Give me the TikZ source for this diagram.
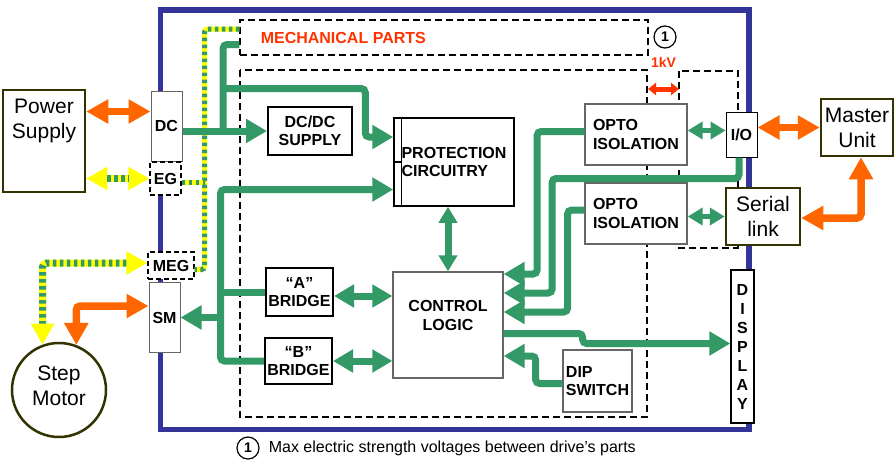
\documentclass[tikz,border=0pt]{standalone}
\usepackage{fontspec}
\setmainfont{Liberation Sans}
\usetikzlibrary{arrows.meta,positioning,calc}
\definecolor{DriveGreen}{HTML}{339966}
\definecolor{PowOrange}{HTML}{FF6600}
\definecolor{KvRed}{HTML}{FF3300}
\definecolor{FrameBlue}{HTML}{333399}
\definecolor{ExtOlive}{HTML}{333300}
\definecolor{EarthYellow}{HTML}{FFFF00}
\definecolor{BoxGrey}{HTML}{666666}
\newcommand{\blkfont}{\bfseries\fontsize{16}{18.5}\selectfont}
\newcommand{\extfont}{\fontsize{21}{25}\selectfont}

\begin{document}
\begin{tikzpicture}[x=1pt, y=-1pt,
  blk/.style={draw, line width=2pt, fill=white, inner sep=0pt, align=center, font=\blkfont},
  gblk/.style={blk, draw=BoxGrey, line width=1.3pt},
  port/.style={draw=BoxGrey, line width=1pt, fill=white, inner sep=0pt, font=\blkfont},
  dport/.style={port, draw=black, line width=1.3pt, dash pattern=on 5pt off 3pt},
  ext/.style={draw=ExtOlive, line width=2.5pt, fill=white, inner sep=0pt, align=center, font=\extfont},
  zone/.style={line width=1.5pt, dash pattern=on 7pt off 4pt},
  gline/.style={draw=DriveGreen, line width=7pt, rounded corners=4pt},
  garrow/.style={gline, -{Triangle[length=21pt,width=23pt]}},
  gbi/.style={gline, {Triangle[length=20pt,width=22pt]}-{Triangle[length=20pt,width=22pt]}},
  gvbi/.style={gline, {Triangle[length=16pt,width=18pt]}-{Triangle[length=16pt,width=18pt]}},
  gsmall/.style={gline, line width=5pt, {Triangle[length=15pt,width=17pt]}-{Triangle[length=15pt,width=17pt]}},
  pwr/.style={draw=PowOrange, line width=7.5pt, rounded corners=4pt, {Triangle[length=22pt,width=23pt]}-{Triangle[length=22pt,width=23pt]}},
  earth/.style={draw=EarthYellow, line width=5pt, rounded corners=3pt, postaction={draw=DriveGreen, dash pattern=on 3.5pt off 3.5pt}},
  eartharrow/.style={draw=EarthYellow, line width=7pt, rounded corners=4pt, {Triangle[length=21pt,width=22pt]}-{Triangle[length=21pt,width=22pt]}, postaction={draw=DriveGreen, arrows=-, shorten <=21pt, shorten >=21pt, dash pattern=on 3.5pt off 3.5pt}},
  kv/.style={draw=KvRed, line width=5pt, {Triangle[length=8pt,width=12pt]}-{Triangle[length=8pt,width=12pt]}},
  numc/.style={circle, draw, line width=1.2pt, minimum size=22pt, inner sep=0pt, font=\bfseries\fontsize{14}{14}\selectfont}]
\useasboundingbox (0,0) rectangle (896,463);

% drive housing and isolation zones
\draw[FrameBlue, line width=5.5pt] (160.5,10) rectangle (749,429.5);
\draw[zone] (240,70) rectangle (647,417);
\draw[zone] (679,71) rectangle (738,248);
\node[zone, draw, minimum width=408pt, minimum height=35pt, inner sep=0pt,
  label={[anchor=west, xshift=18pt, text=KvRed, font=\blkfont]west:MECHANICAL PARTS}] (mech) at (444,37.5) {};

% outside world
\node[ext, minimum width=82pt, minimum height=102pt, text depth=45pt] (ps) at (44,141) {Power\\Supply};
\node[ext, circle, minimum size=94pt, text depth=8pt] (motor) at (59,390) {Step\\Motor};
\node[ext, minimum width=74pt, minimum height=57pt] (serial) at (763,216.5) {Serial\\link};
\node[ext, minimum width=72pt, minimum height=57pt] (master) at (857,127.5) {Master\\Unit};

% connectors on the housing
\node[port, minimum width=31pt, minimum height=70pt] (dc) at (166.5,126) {DC};
\node[dport, minimum width=31pt, minimum height=33pt] (eg) at (165.5,178.5) {EG};
\node[dport, minimum width=46pt, minimum height=27pt] (meg) at (171,265.5) {MEG};
\node[port, minimum width=31pt, minimum height=70pt] (sm) at (164.5,317.5) {SM};
\node[port, draw=black, minimum width=31pt, minimum height=45pt] (io) at (741.5,134.5) {I/O};

% electronics
\node[blk, minimum width=84pt, minimum height=48pt] (dcdc) at (310,131) {DC/DC\\SUPPLY};
\node[blk, line width=1.5pt, minimum width=120pt, minimum height=88pt, align=left] (prot) at (454,162) {PROTECTION\\CIRCUITRY};
\draw[line width=1.5pt] ([xshift=8pt]prot.north west) -- ([xshift=8pt]prot.south west);
\draw[line width=1.5pt] (prot.west) -- ([xshift=8pt]prot.west);
\node[blk, minimum width=67pt, minimum height=48pt] (abr) at (299.5,292) {“A”\\BRIDGE};
\node[blk, minimum width=67pt, minimum height=46pt] (bbr) at (298.5,361) {“B”\\BRIDGE};
\node[gblk, minimum width=110pt, minimum height=106pt, text depth=19pt] (ctrl) at (448,325) {CONTROL\\LOGIC};
\node[gblk, minimum width=102pt, minimum height=61pt, align=left] (opto1) at (636,134.5) {OPTO\\ISOLATION};
\node[gblk, minimum width=102pt, minimum height=61pt, align=left] (opto2) at (636,213.5) {OPTO\\ISOLATION};
\node[gblk, minimum width=69pt, minimum height=62pt, align=left] (dip) at (597.5,381) {DIP\\SWITCH};
\node[blk, line width=1.3pt, minimum width=23pt, minimum height=153pt, font=\bfseries\fontsize{16}{19}\selectfont] (disp) at (742.5,346.5) {D\\I\\S\\P\\L\\A\\Y};

% voltage note
\node[numc] (num1) at (665,37) {1};
\coordinate (kvl) at (648,89);
\coordinate (kvr) at (679,89);
\draw[kv] (kvl) -- node[above=19pt, inner sep=0pt, text=KvRed, font=\bfseries\fontsize{14}{14}\selectfont] (kvlab) {1kV} (kvr);
\node[numc] (num2) at (248,448) {1};
\node[right=9pt of num2, inner sep=0pt, font=\fontsize{16}{18}\selectfont] (caption) {Max electric strength voltages between drive’s parts};

% supply and earth
\coordinate (dcpw) at ([yshift=14.5pt]dc.west);
\draw[pwr] (ps.east |- dcpw) -- (dcpw);
\draw[eartharrow] (ps.east |- eg.west) -- (eg.west);
\coordinate (gnd) at (204.5,182.5);
\draw[earth] ([yshift=8.5pt]mech.west) -| (gnd) |- ([yshift=-4pt]meg.east);
\draw[earth] ([yshift=-4pt]eg.east) -- (gnd);

% motor
\draw[pwr] ([yshift=11.5pt]sm.west) -| (motor.69);
\draw[eartharrow] ([yshift=2.5pt]meg.west) -| (motor.110);

% dc feed
\coordinate (dcj) at (223,131);
\coordinate (pfeed) at (223,88.5);
\draw[garrow] (dc.east |- dcdc.west) -- (dcdc.west);
\draw[gline] (dcj) |- ([yshift=-7pt]mech.west);
\draw[garrow] (pfeed) -| ([xshift=-28pt,yshift=25pt]prot.west) -- ([yshift=25pt]prot.west);

% motor bus
\coordinate (bustop) at (220.5,189.5);
\draw[garrow] (bbr.west) -| (bustop) -- (prot.west |- bustop);
\draw[gline] (abr.west) -- (bustop |- abr.west);
\draw[garrow] (bustop |- sm.east) -- (sm.east);

% logic
\coordinate (aout) at ([yshift=-4pt]abr.east);
\draw[gbi] (aout) -- (aout -| ctrl.west);
\draw[gbi] (bbr.east) -- (bbr.east -| ctrl.west);
\draw[gvbi] (prot.south -| ctrl.north) -- (ctrl.north);
\draw[garrow] ([yshift=3pt]opto1.west) -| ([xshift=33.5pt,yshift=51pt]ctrl.east) -- ([yshift=51pt]ctrl.east);
\draw[garrow] ([xshift=-2.5pt]io.south) -- ++(0,21) -| ([xshift=48.5pt,yshift=32pt]ctrl.east) -- ([yshift=32pt]ctrl.east);
\draw[garrow] ([yshift=3.5pt]opto2.west) -| ([xshift=64pt,yshift=13pt]ctrl.east) -- ([yshift=13pt]ctrl.east);
\draw[garrow] ([yshift=-8.5pt]ctrl.east) -- ++(79,0) |- ([yshift=3pt]disp.west);
\draw[garrow] ([yshift=-2.5pt]dip.west) -| ([xshift=32pt,yshift=-31pt]ctrl.east) -- ([yshift=-31pt]ctrl.east);

% serial side
\coordinate (ioin) at ([yshift=4pt]io.west);
\draw[gsmall] (ioin -| opto1.east) -- (ioin);
\draw[gsmall] (opto2.east |- serial.west) -- (serial.west);
\draw[pwr] (io.east |- master.west) -- (master.west);
\draw[pwr] ([yshift=-1.5pt]serial.east) -| ([xshift=4pt]master.south);
\end{tikzpicture}
\end{document}
